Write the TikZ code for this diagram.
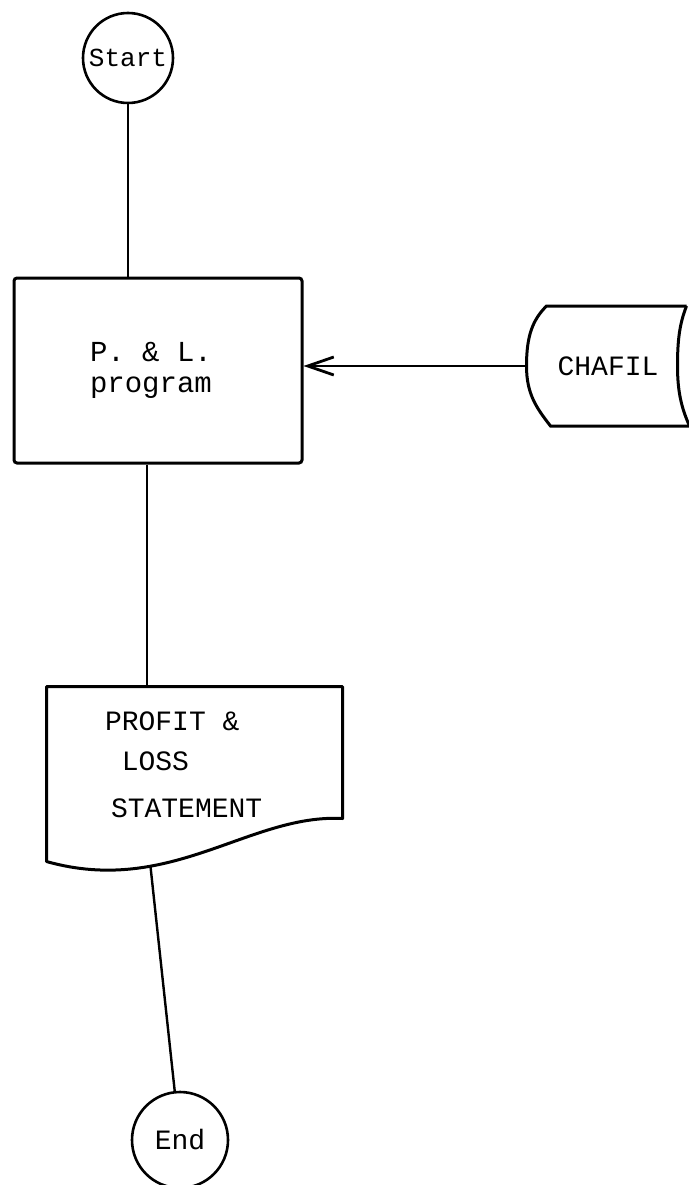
\documentclass[tikz,border=0pt]{standalone}
\usepackage{fontspec}
\setmonofont[WordSpace={1,0,0}]{Liberation Mono}
\usetikzlibrary{positioning, arrows.meta}
\newcommand{\typer}[2]{\ttfamily\fontsize{#1}{#2}\selectfont}

\begin{document}
\begin{tikzpicture}[
            x=1pt, y=-1pt,
            line width=3pt,
            every node/.style = {
                font=\typer{28}{32},
                inner sep=0pt,
                execute at begin node={\spaceskip=0pt\xspaceskip=0pt}
            },
            terminal/.style = {shape=circle, draw, line width=2.6pt},
            flow/.style = {line width=2.4pt},
            feed/.style = {flow, -{Straight Barb[length=26pt,width=18pt,line width=2.8pt]}}
        ]
        \useasboundingbox (0,0) rectangle (688,1185);

            \node[terminal, minimum size=90pt, font=\typer{26}{30}] (start) at (128,58) {Start};
            \node[draw, rounded corners=3pt, minimum height=185pt,
                  text width=136pt, inner xsep=76pt, align=left,
                  font=\typer{29}{31}] (prog) at (158,370.5) {P. \& L.\\program};
            \node[minimum width=160pt, minimum height=117pt] (chafil) at (608,366) {CHAFIL};
            \node[minimum height=154pt, text width=179pt, inner xsep=57pt, align=left,
                  font=\typer{28}{40}] (report) at (194.5,765)
                  {PROFIT \&\\~LOSS\\[7pt]\hspace*{6pt}STATEMENT};
            \node[terminal, minimum size=96pt] (stop) at (180,1140) {End};

            % stored data outline
            \draw ([xshift=-3pt]chafil.north east) -- ([xshift=20pt]chafil.north west)
                .. controls +(-14,14) and +(0,-30) .. (chafil.west)
                .. controls +(0,28) and +(-14,-18) .. ([xshift=24pt]chafil.south west)
                -- (chafil.south east);
            \draw ([xshift=-3pt]chafil.north east)
                .. controls +(-7,18) and +(0,-26) .. ([xshift=-12pt]chafil.east)
                .. controls +(0,26) and +(-8,-18) .. (chafil.south east);

            % document outline
            \draw[line join=round] (report.north west) -- (report.north east) -- ([yshift=25pt]report.south east)
                .. controls +(-93,-5) and +(124,35) .. ([yshift=-18pt]report.south west)
                -- cycle;

            \draw[flow] (start) -- (start |- prog.north);
            \draw[feed] (chafil.west) -- (chafil.west -| prog.east);
            \draw[flow] ([xshift=-11pt]prog.south) -- ([xshift=-11pt]prog.south |- report.north);
            \draw[flow] ([xshift=104pt,yshift=-23pt]report.south west) -- (stop);
        \end{tikzpicture}
\end{document}
